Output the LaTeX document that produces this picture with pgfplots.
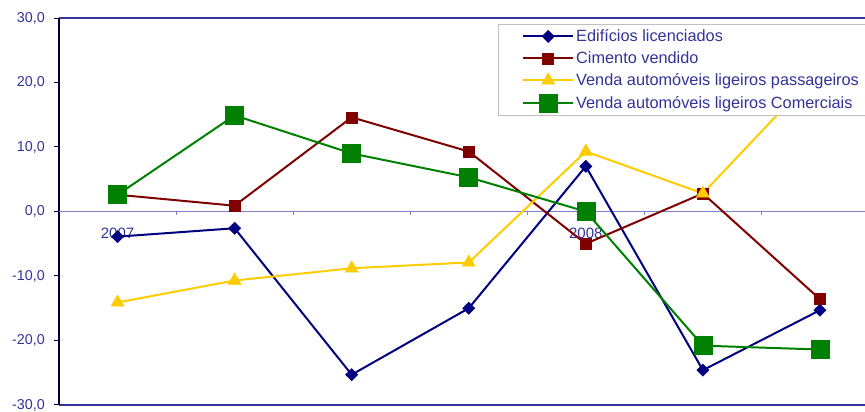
\documentclass[border=0pt]{standalone}
\usepackage{fontspec}
\setmainfont{Liberation Sans}
\usepackage{pgfplots}
\pgfplotsset{compat=1.18}
\definecolor{txt}{RGB}{51,51,153}
\definecolor{border}{RGB}{51,51,153}
\definecolor{leftax}{RGB}{0,0,64}
\definecolor{zeroln}{RGB}{128,128,200}
\definecolor{cblue}{RGB}{0,0,128}
\definecolor{cred}{RGB}{128,0,0}
\definecolor{cyel}{RGB}{255,204,0}
\definecolor{cgreen}{RGB}{0,128,0}
\begin{document}
\begin{tikzpicture}
\path[use as bounding box] (-59pt,-7pt) rectangle (806pt,405pt);
\begin{axis}[
  scale only axis,
  width=819.5pt, height=387pt,
  xmin=0.5, xmax=7.5, ymin=-30, ymax=30,
  ytick={-30,-20,...,30},
  yticklabels=\empty,
  xtick=\empty,
  tick align=outside,
  major tick length=5pt,
  ytick style={color=leftax, line width=1pt},
  separate axis lines,
  x axis line style={color=border, line width=1.6pt},
  y axis line style={color=leftax, line width=1.6pt},
  clip=false,
  legend cell align=left,
  legend style={at={(0.5357,0.9845)}, anchor=north west, draw={rgb,255:red,192;green,192;blue,192}, fill=white,
    font=\fontsize{16.3}{18}\selectfont, text=txt, inner xsep=6pt, inner ysep=3.5pt, row sep=4.6pt,
    /tikz/every even column/.append style={column sep=3pt}},
  legend image code/.code={\path (0pt,0pt); \draw[line width=2pt, mark repeat=2,mark phase=2,#1] plot coordinates {(18pt,0pt) (43pt,0pt) (68pt,0pt)};},
]
\draw[color=zeroln, line width=1pt] (axis cs:0.5,0) -- (axis cs:7.5,0);
\pgfplotsinvokeforeach{1.5,2.5,3.5,4.5,5.5,6.5}{\draw[color=zeroln, line width=0.8pt] (axis cs:#1,0) -- ++(0pt,-4pt);}
\pgfplotsinvokeforeach{30,20,10}{\node[anchor=east, inner sep=0pt, xshift=-14pt, text=txt, font=\fontsize{14.3}{16}\selectfont] at (axis cs:0.5,#1) {#1,0};}
\node[anchor=east, inner sep=0pt, xshift=-14pt, text=txt, font=\fontsize{14.3}{16}\selectfont] at (axis cs:0.5,0) {0,0};
\pgfplotsinvokeforeach{10,20,30}{\node[anchor=east, inner sep=0pt, xshift=-14pt, text=txt, font=\fontsize{14.3}{16}\selectfont] at (axis cs:0.5,-#1) {-#1,0};}
\node[text=txt, font=\fontsize{15}{17}\selectfont] at (axis cs:1,-3.4) {2007};
\node[text=txt, font=\fontsize{15}{17}\selectfont] at (axis cs:5,-3.4) {2008};
\addplot[color=cblue, line width=2pt, mark=square*, mark size=4.3pt, mark options={rotate=45, fill=cblue, line width=0.5pt}]
  coordinates {(1,-3.9) (2,-2.6) (3,-25.3) (4,-15.0) (5,7.0) (6,-24.6) (7,-15.3)};
\addlegendentry{Edifícios licenciados}
\addplot[color=cred, line width=2pt, mark=square*, mark size=5.5pt, mark options={fill=cred, line width=0.5pt}]
  coordinates {(1,2.6) (2,0.9) (3,14.6) (4,9.3) (5,-5.0) (6,2.8) (7,-13.6)};
\addlegendentry{Cimento vendido}
\addplot[color=cyel, line width=2pt, mark=triangle*, mark size=7.5pt, mark options={fill=cyel, line width=0.5pt}]
  coordinates {(1,-14.1) (2,-10.7) (3,-8.8) (4,-7.9) (5,9.3) (6,2.8) (7,22.0)};
\addlegendentry{Venda automóveis ligeiros passageiros}
\addplot[color=cgreen, line width=2pt, mark=square*, mark size=9pt, mark options={fill=cgreen, line width=0.5pt}]
  coordinates {(1,2.6) (2,14.9) (3,9.0) (4,5.3) (5,0.0) (6,-20.8) (7,-21.4)};
\addlegendentry{Venda automóveis ligeiros Comerciais}
\end{axis}
\end{tikzpicture}
\end{document}
